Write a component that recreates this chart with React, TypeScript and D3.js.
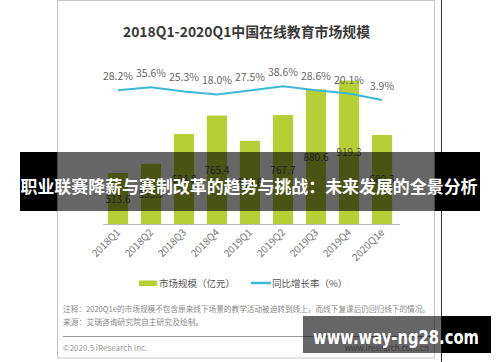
import React from "react";
import * as d3 from "d3";

const quarters = ["2018Q1", "2018Q2", "2018Q3", "2018Q4", "2019Q1", "2019Q2", "2019Q3", "2019Q4", "2020Q1e"];
const marketSize = [513.6, 553.9, 684.8, 765.4, 654.8, 767.7, 880.6, 919.3, 680.3];
const growthRate = [28.2, 35.6, 25.3, 18.0, 27.5, 38.6, 28.6, 20.1, 3.9];

const titleText = "2018Q1-2020Q1中国在线教育市场规模";
const legendBar = "市场规模（亿元）";
const legendLine = "同比增长率（%）";
const noteText = "注释：2020Q1e的市场规模不包含原来线下场景的教学活动被迫转到线上，而线下复课后仍回归线下的情况。";
const sourceText = "来源：艾瑞咨询研究院自主研究及绘制。";
const copyrightText = "©2020.5 iResearch Inc.";
const siteText = "www.iresearch.com.cn";
const bannerText = "职业联赛降薪与赛制改革的趋势与挑战：未来发展的全景分析";
const watermarkText = "www.way-ng28.com";

const BAR = "#b5cf34";
const LINE = "#3db8d6";
const FONT = "'Noto Sans CJK SC', 'Noto Sans', sans-serif";

export default function App() {
  const x = d3.scaleBand<string>().domain(quarters).range([101.5, 398.5]).paddingInner(0.39).paddingOuter(0.195);
  const yBar = d3.scaleLinear().domain([290, 950]).range([224, 73.5]);
  const yRate = d3.scaleLinear().domain([0, 40]).range([101.6, 85.6]);
  const cx = (q: string) => (x(q) as number) + x.bandwidth() / 2;

  const linePath = d3
    .line<number>()
    .x((_, i) => cx(quarters[i]))
    .y((d) => yRate(d))(growthRate) as string;

  return (
    <svg
      width={500}
      height={362}
      style={{ position: "absolute", left: 0, top: 0, background: "#fff" }}
      fontFamily={FONT}
    >
      <rect x={0} y={0} width={500} height={362} fill="#fff" />
      {/* frame */}
      <rect x={57.5} y={0.5} width={377} height={357.5} fill="#fff" stroke="#c8c8c8" strokeWidth={1} />
      <line x1={441.5} x2={441.5} y1={0} y2={362} stroke="#333" strokeWidth={1} />

      <text x={246.5} y={37} textAnchor="middle" fontSize={14} fontWeight="bold" fill="#3a3a3a" textLength={247} lengthAdjust="spacingAndGlyphs">
        {titleText}
      </text>

      {/* bars */}
      {quarters.map((q, i) => (
        <rect key={q} x={x(q)} y={yBar(marketSize[i])} width={x.bandwidth()} height={224 - yBar(marketSize[i])} fill={BAR} />
      ))}
      {quarters.map((q, i) => (
        <text
          key={"v" + q}
          x={cx(q)}
          y={(yBar(marketSize[i]) + 224) / 2 + 4}
          textAnchor="middle"
          fontSize={10}
          fill="#555"
        >
          {marketSize[i].toFixed(1)}
        </text>
      ))}

      {/* axis */}
      <line x1={103} x2={400} y1={224.5} y2={224.5} stroke="#b8b8b8" strokeWidth={1} />
      {quarters.map((q) => (
        <text
          key={"t" + q}
          transform={`translate(${cx(q) + 3},${233}) rotate(-45)`}
          textAnchor="end"
          fontSize={10}
          fill="#777"
        >
          {q}
        </text>
      ))}

      {/* line */}
      <path d={linePath} fill="none" stroke={LINE} strokeWidth={2} />
      {quarters.map((q, i) => (
        <text key={"r" + q} x={cx(q)} y={yRate(growthRate[i]) - 10} textAnchor="middle" fontSize={10.5} fill="#666">
          {growthRate[i].toFixed(1)}%
        </text>
      ))}

      {/* legend */}
      <rect x={139} y={280.5} width={18} height={5.5} fill={BAR} />
      <text x={159} y={286.5} fontSize={9.5} fill="#555">
        {legendBar}
      </text>
      <line x1={251} x2={271} y1={283} y2={283} stroke={LINE} strokeWidth={2.5} />
      <text x={272} y={286.5} fontSize={9.5} fill="#555">
        {legendLine}
      </text>

      {/* notes */}
      <text x={63} y={312} fontSize={7.8} fill="#888" textLength={367} lengthAdjust="spacingAndGlyphs">
        {noteText}
      </text>
      <text x={63} y={325} fontSize={7.8} fill="#888">
        {sourceText}
      </text>
      <line x1={63} x2={430} y1={336.5} y2={336.5} stroke="#999" strokeWidth={1} />
      <text x={63} y={351} fontSize={8} fill="#999">
        {copyrightText}
      </text>
      <text x={429} y={351} fontSize={8} fill="#999" textAnchor="end">
        {siteText}
      </text>

      {/* banner overlay */}
      <rect x={20} y={152} width={37.5} height={59} fill="#000" />
      <rect x={57.5} y={152} width={377} height={59} fill="#000" opacity={0.6} />
      <rect x={434.5} y={152} width={45.5} height={59} fill="#000" />
      <text
        x={20.5}
        y={192.5}
        fontSize={17}
        fontWeight="bold"
        fill="#fff"
        textLength={457}
        lengthAdjust="spacingAndGlyphs"
      >
        {bannerText}
      </text>

      {/* watermark */}
      <rect x={303} y={316} width={138.5} height={37} fill="#000" opacity={0.6} />
      <rect x={441.5} y={316} width={49.5} height={37} fill="#000" />
      <text
        x={313}
        y={343.5}
        fontSize={20}
        fontWeight="bold"
        fill="#fff"
        fontFamily="'DejaVu Sans', sans-serif"
        textLength={166}
        lengthAdjust="spacingAndGlyphs"
      >
        {watermarkText}
      </text>
    </svg>
  );
}
